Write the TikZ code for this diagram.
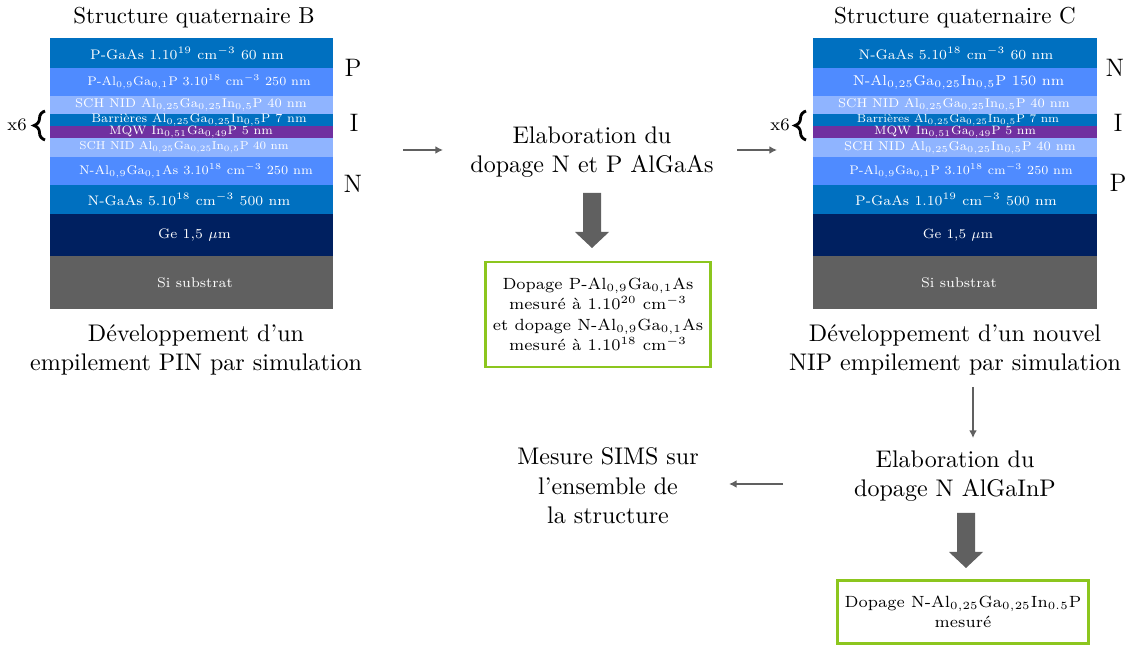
\documentclass[tikz,border=0pt]{standalone}
\usepackage{amsmath, amssymb}
\usetikzlibrary{decorations.pathreplacing, arrows.meta}

\definecolor{bleufonce}{RGB}{0,112,192}
\definecolor{bleumoyen}{RGB}{79,139,255}
\definecolor{bleuclair}{RGB}{143,180,255}
\definecolor{violetmqw}{RGB}{112,48,160}
\definecolor{marine}{RGB}{0,32,96}
\definecolor{grisfonce}{RGB}{96,96,96}
\definecolor{vertboite}{RGB}{140,198,30}

\tikzset{
    couche/.style={text=white, inner sep=0pt, font=\fontsize{7}{8}\selectfont, transform shape},
    grand/.style={font=\fontsize{10.95}{13.6}\selectfont, inner sep=0pt, align=center},
    titre/.style={font=\fontsize{10.5}{13}\selectfont, inner sep=0pt, anchor=base},
    lettre/.style={font=\fontsize{11.5}{14}\selectfont, inner sep=0pt, anchor=base},
    boite/.style={draw=vertboite, line width=1.3pt, minimum width=3.58cm, minimum height=1.68cm,
        font=\fontsize{7.4}{9.3}\selectfont, align=center},
    fleche/.style={-{Latex[length=3.5pt, width=3.6pt]}, draw=grisfonce, line width=0.9pt},
    accolade/.style={decorate, decoration={brace, amplitude=5pt}, line width=1.3pt},
    grossefleche/.pic={\fill[grisfonce] (-9,0) -- (9,0) -- (9,39) -- (17,39) -- (0,55) -- (-17,39) -- (-9,39) -- cycle;}
}

\begin{document}
\begin{tikzpicture}[x=0.016cm, y=-0.016cm]

    \useasboundingbox (0,0) rectangle (1137,645);

    % Empilement B (PIN)
    \foreach \ya/\yb/\coul/\xc/\taille/\txt in {
        38/68/bleufonce/187/0.9/{P-GaAs 1.10$^{19}$ cm$^{-3}$ 60 nm},
        68/96/bleumoyen/199/0.81/{P-Al$_{0{,}9}$Ga$_{0{,}1}$P 3.10$^{18}$ cm$^{-3}$ 250 nm},
        96/114/bleuclair/191/0.83/{SCH NID Al$_{0{,}25}$Ga$_{0{,}25}$In$_{0{,}5}$P 40 nm},
        114/126/bleufonce/199/0.81/{Barrières Al$_{0{,}25}$Ga$_{0{,}25}$In$_{0{,}5}$P 7 nm},
        126/138/violetmqw/191/0.8/{MQW In$_{0{,}51}$Ga$_{0{,}49}$P 5 nm},
        138/157/bleuclair/184/0.75/{SCH NID Al$_{0{,}25}$Ga$_{0{,}25}$In$_{0{,}5}$P 40 nm},
        157/185/bleumoyen/196/0.82/{N-Al$_{0{,}9}$Ga$_{0{,}1}$As 3.10$^{18}$ cm$^{-3}$ 250 nm},
        185/214/bleufonce/189/0.9/{N-GaAs 5.10$^{18}$ cm$^{-3}$ 500 nm},
        214/256/marine/194.5/0.9/{Ge 1,5 $\mu$m},
        256/309/grisfonce/195/0.91/{Si substrat}}{
        \fill[\coul] (50,\ya) rectangle (333,\yb);
        \node[couche, scale=\taille] (coucheB\ya) at (\xc,{(\ya+\yb)/2}) {\txt};
    }

    % Empilement C (NIP)
    \foreach \ya/\yb/\coul/\xc/\taille/\txt in {
        38/68/bleufonce/956/0.9/{N-GaAs 5.10$^{18}$ cm$^{-3}$ 60 nm},
        68/96/bleumoyen/958.5/0.93/{N-Al$_{0{,}25}$Ga$_{0{,}25}$In$_{0{,}5}$P 150 nm},
        96/114/bleuclair/954/0.83/{SCH NID Al$_{0{,}25}$Ga$_{0{,}25}$In$_{0{,}5}$P 40 nm},
        114/126/bleufonce/958/0.76/{Barrières Al$_{0{,}25}$Ga$_{0{,}25}$In$_{0{,}5}$P 7 nm},
        126/138/violetmqw/955/0.79/{MQW In$_{0{,}51}$Ga$_{0{,}49}$P 5 nm},
        138/157/bleuclair/960/0.83/{SCH NID Al$_{0{,}25}$Ga$_{0{,}25}$In$_{0{,}5}$P 40 nm},
        157/185/bleumoyen/961/0.81/{P-Al$_{0{,}9}$Ga$_{0{,}1}$P 3.10$^{18}$ cm$^{-3}$ 250 nm},
        185/214/bleufonce/956/0.9/{P-GaAs 1.10$^{19}$ cm$^{-3}$ 500 nm},
        214/256/marine/958/0.87/{Ge 1,5 $\mu$m},
        256/309/grisfonce/959/0.91/{Si substrat}}{
        \fill[\coul] (813,\ya) rectangle (1097,\yb);
        \node[couche, scale=\taille] (coucheC\ya) at (\xc,{(\ya+\yb)/2}) {\txt};
    }

    % Titres
    \node[titre] (titreB) at (194,24) {Structure quaternaire B};
    \node[titre] (titreC) at (955,24) {Structure quaternaire C};

    % Lettres P, I, N
    \node[lettre] (pB) at (353,77) {P};
    \node[lettre] (iB) at (354,132) {I};
    \node[lettre] (nB) at (353,193) {N};
    \node[lettre] (nC) at (1115,77) {N};
    \node[lettre] (iC) at (1118,132) {I};
    \node[lettre] (pC) at (1118,192) {P};

    % Accolades x6
    \draw[accolade] (45,140) -- (45,111);
    \node[font=\footnotesize, inner sep=0pt] (xsixB) at (17,125) {x6};
    \draw[accolade] (806,140) -- (806,111);
    \node[font=\footnotesize, inner sep=0pt] (xsixC) at (780,125) {x6};

    % Legendes sous les empilements
    \node[grand, anchor=base] (legB) at (196,371) {Développement d'un\\empilement PIN par simulation};
    \node[grand, anchor=base] (legC) at (955,371) {Développement d'un nouvel\\NIP empilement par simulation};

    % Etapes
    \node[grand, anchor=base] (elabA) at (592,173) {Elaboration du\\dopage N et P AlGaAs};
    \node[grand, anchor=base] (elabB) at (955,497) {Elaboration du\\dopage N AlGaInP};
    \node[grand, anchor=base] (sims) at (608,524) {Mesure SIMS sur\\l'ensemble de\\la structure};

    % Resultats
    \node[boite] (res1) at (598,314.5) {Dopage P-Al$_{0{,}9}$Ga$_{0{,}1}$As\\mesuré à 1.10$^{20}$ cm$^{-3}$\\et dopage N-Al$_{0{,}9}$Ga$_{0{,}1}$As\\mesuré à 1.10$^{18}$ cm$^{-3}$};
    \node[boite, minimum width=4cm, minimum height=1.02cm] (res2) at (963,612) {Dopage N-Al$_{0{,}25}$Ga$_{0{,}25}$In$_{0.5}$P\\mesuré};

    % Grosses fleches
    \pic (gfA) at (592,193) {grossefleche};
    \pic (gfB) at (966,513) {grossefleche};

    % Fleches fines
    \coordinate (f1a) at (403,150);
    \coordinate (f1b) at (443,150);
    \coordinate (f2a) at (737,150);
    \coordinate (f2b) at (777,150);
    \coordinate (f3a) at (973,387);
    \coordinate (f3b) at (973,438);
    \coordinate (f4a) at (783,484);
    \coordinate (f4b) at (729,484);
    \draw[fleche] (f1a) -- (f1b);
    \draw[fleche] (f2a) -- (f2b);
    \draw[fleche] (f3a) -- (f3b);
    \draw[fleche] (f4a) -- (f4b);

\end{tikzpicture}
\end{document}
